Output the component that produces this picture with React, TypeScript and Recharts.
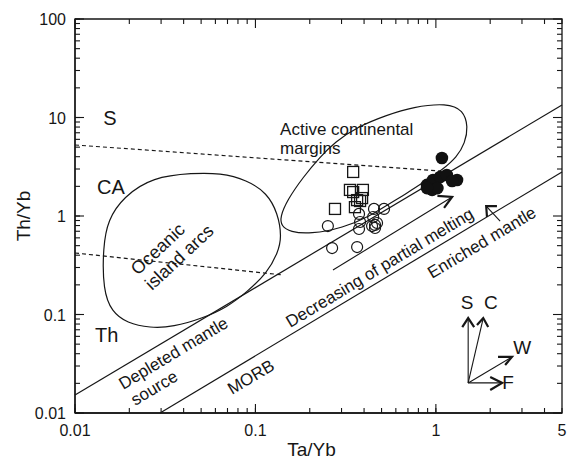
import React from "react";
import { ScatterChart, Scatter, XAxis, YAxis, ReferenceLine, ReferenceArea } from "recharts";

type Pt = { x: number; y: number };

const FONT = '"Liberation Sans", Arimo, Arial, Roboto, sans-serif';
const INK = "#161616";

const W = 573;
const H = 465;
const MARGIN = { top: 19, right: 11, bottom: 0, left: 0 };
const Y_AXIS_W = 75;
const X_AXIS_H = 52;
const PLOT_W = W - MARGIN.right - Y_AXIS_W;
const PLOT_H = H - MARGIN.top - X_AXIS_H;
const MINOR_TICK = 5;
const MAJOR_TICK = 9;

// log axes: Ta/Yb and Th/Yb
const xDomain: [number, number] = [0.01, 5];
const yDomain: [number, number] = [0.01, 100];
const xDecades = [0.01, 0.1, 1];
const yDecades = [0.01, 0.1, 1, 10, 100];
const xLabels = [0.01, 0.1, 1, 5];
const yLabels = [0.01, 0.1, 1, 10, 100];

// open squares
const squareTaYb = [0.348, 0.334, 0.394, 0.276, 0.366, 0.38, 0.356, 0.348, 0.39];
const squareThYb = [2.8, 1.84, 1.84, 1.18, 1.45, 1.42, 1.23, 1.75, 1.52];

// open circles
const ringTaYb = [0.252, 0.266, 0.366, 0.375, 0.375, 0.454, 0.516, 0.46, 0.472, 0.46, 0.449, 0.38, 0.443];
const ringThYb = [0.791, 0.473, 0.484, 0.738, 1.05, 1.18, 1.18, 0.811, 0.849, 0.755, 0.977, 0.869, 0.791];

// filled circles
const dotTaYb = [1.08, 0.893, 0.964, 1.055, 1.15, 1.31, 0.953, 1.02, 0.893, 1.23];
const dotThYb = [3.88, 2.07, 2.32, 2.49, 2.61, 2.32, 1.84, 1.92, 1.92, 2.27];

// field outlines [Ta/Yb, Th/Yb]
const islandArcField: [number, number][] = [
  [0.0451, 2.73], [0.0637, 2.73], [0.0897, 2.32], [0.116, 1.71], [0.133, 1.07],
  [0.14, 0.612], [0.133, 0.421], [0.116, 0.264], [0.0897, 0.169], [0.0697, 0.119],
  [0.0513, 0.092], [0.0349, 0.0746], [0.0261, 0.0729], [0.0194, 0.082], [0.016, 0.106],
  [0.0143, 0.177], [0.0143, 0.484], [0.0152, 0.91], [0.0185, 1.56], [0.027, 2.49],
];
const activeMarginField: [number, number][] = [
  [0.137, 0.977], [0.15, 1.45], [0.184, 2.49], [0.228, 3.97], [0.276, 5.64],
  [0.366, 8.01], [0.536, 10.6], [0.748, 12.8], [1.15, 14.0], [1.42, 11.9],
  [1.51, 8.01], [1.45, 5.51], [1.31, 3.97], [1.08, 2.93], [0.893, 2.32],
  [0.692, 1.71], [0.536, 1.29], [0.431, 1.0], [0.306, 0.755], [0.201, 0.656],
  [0.156, 0.689], [0.139, 0.791],
];

// MORB array and the S / CA / Th dividers
const morbUpper: Pt[] = [{ x: 0.01, y: 0.0152 }, { x: 5, y: 13.4 }];
const morbLower: Pt[] = [{ x: 0.0296, y: 0.01 }, { x: 5, y: 2.8 }];
const shoshoniteDivide: Pt[] = [{ x: 0.01, y: 5.26 }, { x: 1.055, y: 2.86 }];
const tholeiiteDivide: Pt[] = [{ x: 0.01, y: 0.421 }, { x: 0.142, y: 0.252 }];

type Arrow = { from: Pt; to: Pt; barbs: [Pt, Pt] };

const trendArrows: Arrow[] = [
  // decreasing of partial melting
  { from: { x: 0.269, y: 0.283 }, to: { x: 1.23, y: 1.56 }, barbs: [{ x: 1.02, y: 1.6 }, { x: 1.11, y: 1.21 }] },
  // enriched mantle
  { from: { x: 2.27, y: 0.889 }, to: { x: 1.9, y: 1.26 }, barbs: [{ x: 2.18, y: 1.26 }, { x: 1.92, y: 0.977 }] },
];

// S, C, W, F vectors from a common origin
const vectorOrigin: Pt = { x: 1.51, y: 0.0202 };
const vectorArrows: Arrow[] = [
  { from: vectorOrigin, to: { x: 1.51, y: 0.092 }, barbs: [{ x: 1.4, y: 0.0746 }, { x: 1.63, y: 0.0746 }] },
  { from: vectorOrigin, to: { x: 1.83, y: 0.092 }, barbs: [{ x: 1.69, y: 0.0782 }, { x: 1.95, y: 0.0746 }] },
  { from: vectorOrigin, to: { x: 2.64, y: 0.0371 }, barbs: [{ x: 2.21, y: 0.0371 }, { x: 2.42, y: 0.0307 }] },
  { from: vectorOrigin, to: { x: 2.33, y: 0.0202 }, barbs: [{ x: 2.0, y: 0.0232 }, { x: 2.0, y: 0.0171 }] },
];

type Note = { x: number; y: number; text: string; angle: number };

const regionNotes: Note[] = [
  { x: 0.0156, y: 10.0, text: "S", angle: 0 },
  { x: 0.0158, y: 1.97, text: "CA", angle: 0 },
  { x: 0.015, y: 0.0619, text: "Th", angle: 0 },
];

const vectorNotes: Note[] = [
  { x: 1.49, y: 0.131, text: "S", angle: 0 },
  { x: 2.02, y: 0.131, text: "C", angle: 0 },
  { x: 3.01, y: 0.0457, text: "W", angle: 0 },
  { x: 2.51, y: 0.0202, text: "F", angle: 0 },
];

const arcNotes: Note[] = [
  { x: 0.0223, y: 0.246, text: "Oceanic", angle: -43 },
  { x: 0.0267, y: 0.173, text: "island arcs", angle: -43 },
];

const fieldNotes: Note[] = [
  { x: 0.137, y: 6.64, text: "Active continental", angle: 0 },
  { x: 0.137, y: 4.26, text: "margins", angle: 0 },
  { x: 0.0185, y: 0.0171, text: "Depleted mantle", angle: -31 },
  { x: 0.0216, y: 0.0118, text: "source", angle: -31 },
  { x: 0.0741, y: 0.0152, text: "MORB", angle: -31 },
  { x: 0.156, y: 0.0729, text: "Decreasing of partial melting", angle: -31 },
  { x: 0.953, y: 0.229, text: "Enriched mantle", angle: -31 },
];

const zip = (xs: number[], ys: number[]): Pt[] => xs.map((x, i) => ({ x, y: ys[i] }));
const toPts = (pairs: [number, number][]): Pt[] => pairs.map(([x, y]) => ({ x, y }));

const squares = zip(squareTaYb, squareThYb);
const rings = zip(ringTaYb, ringThYb);
const dots = zip(dotTaYb, dotThYb);

function ticksFor(decades: number[], max: number) {
  const out: number[] = [];
  decades.forEach((d) => {
    for (let k = 1; k <= 9; k++) {
      const v = Number((d * k).toPrecision(4));
      if (v <= max) out.push(v);
    }
  });
  return out;
}

const xTicks = ticksFor(xDecades, xDomain[1]);
const yTicks = ticksFor(yDecades, yDomain[1]);

const isDecade = (v: number) => {
  const l = Math.log10(v);
  return Math.abs(l - Math.round(l)) < 1e-6;
};
const hasLabel = (list: number[], v: number) => list.some((l) => Math.abs(l - v) < 1e-9);
const tickLen = (v: number) => (isDecade(v) ? MAJOR_TICK : MINOR_TICK);

// pixels per decade, to turn a tick length into a ratio on the log axes
const xPxPerDecade = PLOT_W / Math.log10(xDomain[1] / xDomain[0]);
const yPxPerDecade = PLOT_H / Math.log10(yDomain[1] / yDomain[0]);
const xStep = (px: number) => Math.pow(10, px / xPxPerDecade);
const yStep = (px: number) => Math.pow(10, px / yPxPerDecade);

// bottom/left minor ticks come from the axes; the long decade ticks there,
// and every tick on the top and right edges, are drawn as segments
const tickSegments: Pt[][] = [
  ...xTicks.filter(isDecade).map((v) => [{ x: v, y: yDomain[0] }, { x: v, y: yDomain[0] * yStep(MAJOR_TICK) }]),
  ...yTicks.filter(isDecade).map((v) => [{ x: xDomain[0], y: v }, { x: xDomain[0] * xStep(MAJOR_TICK), y: v }]),
  ...xTicks.map((v) => [{ x: v, y: yDomain[1] }, { x: v, y: yDomain[1] / yStep(tickLen(v)) }]),
  ...yTicks.map((v) => [{ x: xDomain[1], y: v }, { x: xDomain[1] / xStep(tickLen(v)), y: v }]),
];

// labels sit past the inward tick, so shift back by the tick length
function makeTickLabel(side: "bottom" | "left", labels: number[]) {
  return function TickLabel(props: any) {
    const { x, y, payload } = props;
    const v = Number(payload.value);
    if (!hasLabel(labels, v)) return <g />;
    return side === "bottom" ? (
      <text x={x} y={y + MINOR_TICK + 23} textAnchor="middle" fontSize={16} fill={INK} fontFamily={FONT}>
        {v}
      </text>
    ) : (
      <text x={x - MINOR_TICK - 9} y={y + 6} textAnchor="end" fontSize={16} fill={INK} fontFamily={FONT}>
        {v}
      </text>
    );
  };
}

const noMark = () => <g />;
const squareMark = (p: any) => (
  <rect x={p.cx - 5.5} y={p.cy - 5.5} width={11} height={11} fill="none" stroke={INK} strokeWidth={1.3} />
);
const ringMark = (p: any) => (
  <circle cx={p.cx} cy={p.cy} r={5.5} fill="none" stroke={INK} strokeWidth={1.2} />
);
const dotMark = (p: any) => <circle cx={p.cx} cy={p.cy} r={6.3} fill="#111" />;

const makeCenteredText = (size: number) => (p: any) => (
  <text
    x={p.cx}
    y={p.cy}
    textAnchor="middle"
    dominantBaseline="central"
    fontSize={size}
    fill={INK}
    fontFamily={FONT}
  >
    {p.payload.text}
  </text>
);
const makeRotatedText = (size: number) => (p: any) => (
  <text
    x={p.cx}
    y={p.cy}
    fontSize={size}
    fill={INK}
    fontFamily={FONT}
    transform={p.payload.angle ? `rotate(${p.payload.angle} ${p.cx} ${p.cy})` : undefined}
  >
    {p.payload.text}
  </text>
);

const axisLine = { stroke: INK, strokeWidth: 1.3 };
const tickLine = { stroke: INK, strokeWidth: 1.1 };
const titleStyle = { fontSize: 19, fill: INK, fontFamily: FONT };

export default function App() {
  const allArrows = [...trendArrows, ...vectorArrows];
  return (
    <div style={{ position: "absolute", left: 0, top: 0, background: "#fff", fontFamily: FONT }}>
      <ScatterChart width={W} height={H} margin={MARGIN}>
        <XAxis
          dataKey="x"
          type="number"
          scale="log"
          domain={xDomain}
          allowDataOverflow
          ticks={xTicks}
          interval={0}
          tickSize={-MINOR_TICK}
          tickMargin={0}
          tickLine={tickLine}
          axisLine={axisLine}
          tick={makeTickLabel("bottom", xLabels)}
          height={X_AXIS_H}
          label={{ value: "Ta/Yb", position: "insideBottom", offset: 9, dx: -7, ...titleStyle }}
        />
        <YAxis
          dataKey="y"
          type="number"
          scale="log"
          domain={yDomain}
          allowDataOverflow
          ticks={yTicks}
          interval={0}
          tickSize={-MINOR_TICK}
          tickMargin={0}
          tickLine={tickLine}
          axisLine={axisLine}
          tick={makeTickLabel("left", yLabels)}
          width={Y_AXIS_W}
          label={{ value: "Th/Yb", angle: -90, position: "center", dx: -14, ...titleStyle }}
        />

        {/* full frame around the plot */}
        <ReferenceArea
          x1={xDomain[0]}
          x2={xDomain[1]}
          y1={yDomain[0]}
          y2={yDomain[1]}
          fill="none"
          fillOpacity={0}
          stroke={INK}
          strokeWidth={1.3}
          ifOverflow="visible"
        />
        {tickSegments.map((s, i) => (
          <ReferenceLine key={`tick-${i}`} segment={s} stroke={INK} strokeWidth={1.1} ifOverflow="visible" />
        ))}

        <ReferenceLine segment={morbUpper} stroke={INK} strokeWidth={1.2} ifOverflow="visible" />
        <ReferenceLine segment={morbLower} stroke={INK} strokeWidth={1.2} ifOverflow="visible" />
        <ReferenceLine segment={shoshoniteDivide} stroke={INK} strokeWidth={1.2} strokeDasharray="4 3" ifOverflow="visible" />
        <ReferenceLine segment={tholeiiteDivide} stroke={INK} strokeWidth={1.2} strokeDasharray="4 3" ifOverflow="visible" />

        <Scatter
          data={toPts(islandArcField)}
          fill={INK}
          line={{ stroke: INK, strokeWidth: 1.2 }}
          lineJointType="basisClosed"
          shape={noMark}
          isAnimationActive={false}
        />
        <Scatter
          data={toPts(activeMarginField)}
          fill={INK}
          line={{ stroke: INK, strokeWidth: 1.2 }}
          lineJointType="basisClosed"
          shape={noMark}
          isAnimationActive={false}
        />

        {allArrows.map((a, i) => (
          <ReferenceLine key={`shaft-${i}`} segment={[a.from, a.to]} stroke={INK} strokeWidth={1.1} ifOverflow="visible" />
        ))}
        {allArrows.map((a, i) => (
          <Scatter
            key={`head-${i}`}
            data={[a.barbs[0], a.to, a.barbs[1]]}
            fill={INK}
            line={{ stroke: INK, strokeWidth: 2.2 }}
            lineJointType="linear"
            shape={noMark}
            isAnimationActive={false}
          />
        ))}

        <Scatter data={squares} shape={squareMark} isAnimationActive={false} />
        <Scatter data={rings} shape={ringMark} isAnimationActive={false} />
        <Scatter data={dots} shape={dotMark} isAnimationActive={false} />

        <Scatter data={regionNotes} shape={makeCenteredText(20)} isAnimationActive={false} />
        <Scatter data={vectorNotes} shape={makeCenteredText(19)} isAnimationActive={false} />
        <Scatter data={arcNotes} shape={makeRotatedText(18)} isAnimationActive={false} />
        <Scatter data={fieldNotes} shape={makeRotatedText(17)} isAnimationActive={false} />
      </ScatterChart>
    </div>
  );
}
